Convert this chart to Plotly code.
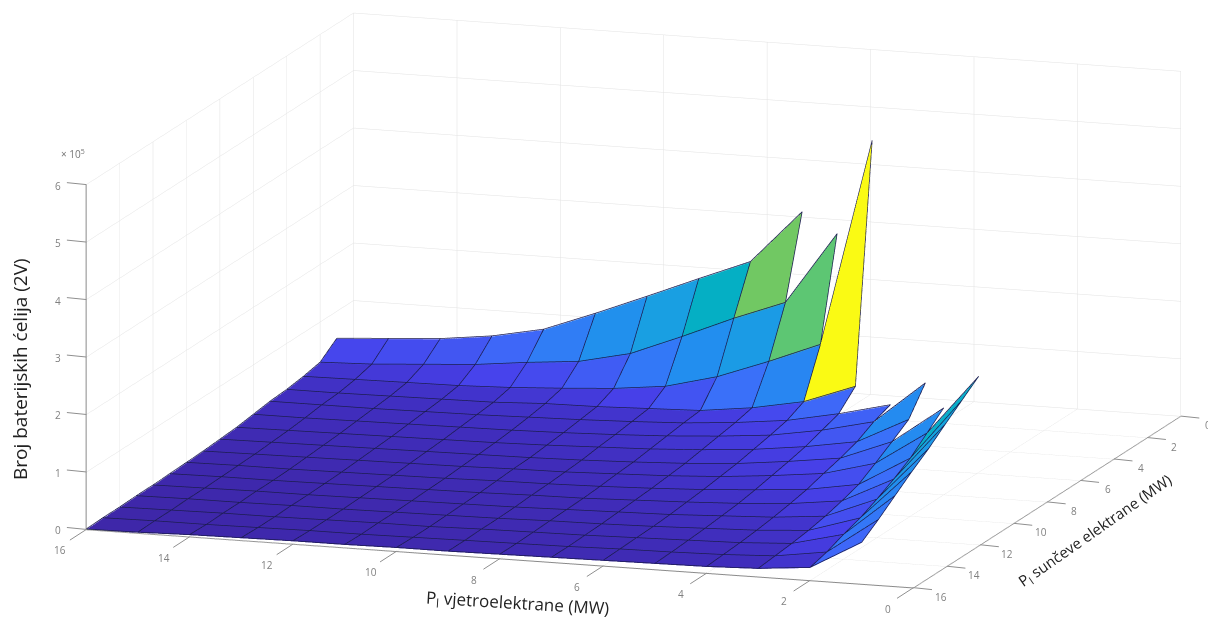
import plotly.graph_objects as go

# Wind plant power (MW), solar plant power (MW)
wind_mw = [16, 15, 14, 13, 12, 11, 10, 9, 8, 7, 6, 5, 4, 3, 2, 1]
solar_mw = list(range(1, 17))

# Axis ticks
wind_ticks = [0, 2, 4, 6, 8, 10, 12, 14, 16]
solar_ticks = [0, 2, 4, 6, 8, 10, 12, 14, 16]
cell_ticks = [0, 1, 2, 3, 4, 5, 6]

# Number of 2V cells (x 10^5); each row is one solar value, columns follow wind_mw
N = None
cells_s01 = [.52, .58, .64, .75, .93, 1.27, 1.63, 2.00, 2.36, 3.29, N, N, N, N, N, N]
cells_s02 = [.29, .32, .38, .44, .54, .62, .82, 1.18, 1.56, 1.90, 3.16, N, N, N, N, N]
cells_s03 = [.23, .24, .25, .26, .29, .34, .40, .50, .73, 1.06, 1.42, 5.03, N, N, N, N]
cells_s04 = [.19, .19, .20, .21, .22, .26, .27, .30, .33, .44, .61, .94, N, N, N, N]
cells_s05 = [.17, .17, .17, .18, .19, .21, .23, .26, .30, .37, .47, .65, .87, N, N, N]
cells_s06 = [.13, .13, .14, .15, .16, .17, .19, .22, .26, .32, .40, .55, .76, 1.50, N, N]
cells_s07 = [.09, .10, .11, .12, .13, .14, .16, .19, .22, .27, .34, .45, .60, 1.05, N, N]
cells_s08 = [.07, .08, .09, .10, .11, .12, .13, .15, .18, .22, .28, .38, .50, .85, 1.50, N]
cells_s09 = [.05, .06, .07, .08, .09, .10, .12, .13, .16, .19, .24, .32, .42, .66, 1.25, 2.30]
cells_s10 = [.04, .05, .05, .06, .07, .08, .10, .11, .13, .16, .20, .26, .33, .48, 1.00, 2.07]
cells_s11 = [.03, .04, .04, .05, .06, .07, .08, .10, .11, .14, .17, .21, .27, .38, .82, 1.84]
cells_s12 = [.02, .03, .04, .04, .05, .06, .07, .08, .10, .12, .14, .18, .22, .30, .66, 1.60]
cells_s13 = [.02, .03, .03, .04, .04, .05, .06, .07, .09, .10, .12, .15, .18, .24, .52, 1.39]
cells_s14 = [.01, .02, .03, .03, .04, .05, .05, .07, .08, .09, .11, .13, .15, .20, .42, 1.16]
cells_s15 = [.01, .02, .02, .03, .04, .04, .05, .06, .07, .08, .10, .11, .13, .17, .30, .93]
cells_s16 = [.00, .01, .03, .04, .05, .05, .06, .06, .07, .08, .09, .10, .11, .14, .22, .72]
cells = [cells_s01, cells_s02, cells_s03, cells_s04, cells_s05, cells_s06, cells_s07, cells_s08,
         cells_s09, cells_s10, cells_s11, cells_s12, cells_s13, cells_s14, cells_s15, cells_s16]

parula = [[0.0, "rgb(62,38,168)"], [0.05, "rgb(65,50,200)"], [0.1, "rgb(71,65,235)"], [0.2, "rgb(60,110,250)"],
          [0.3, "rgb(35,140,240)"], [0.4, "rgb(25,160,225)"], [0.47, "rgb(5,175,195)"], [0.55, "rgb(45,190,150)"],
          [0.6, "rgb(70,195,135)"], [0.65, "rgb(110,200,100)"], [0.75, "rgb(190,195,65)"], [0.85, "rgb(250,195,45)"],
          [1.0, "rgb(250,250,20)"]]

vx, vy, vz, index = [], [], [], {}
for r, row in enumerate(cells):
    for c, val in enumerate(row):
        if val is not None:
            index[(r, c)] = len(vx)
            vx.append(wind_mw[c]); vy.append(solar_mw[r]); vz.append(val)

ti, tj, tk, shade = [], [], [], []
ex, ey, ez = [], [], []
LIFT = 0.012   # keeps the mesh lines just above the faces so the depth test does not eat them
def edge(a, b):
    ex.extend([vx[a], vx[b], None]); ey.extend([vy[a], vy[b], None]); ez.extend([vz[a] + LIFT, vz[b] + LIFT, None])
for r in range(15):
    for c in range(15):
        keys = [(r, c), (r, c + 1), (r + 1, c + 1), (r + 1, c)]
        if all(k in index for k in keys):
            a, b, d, e = [index[k] for k in keys]
            col = cells[r][c + 1]   # flat face: lowest wind, lowest solar corner
            ti += [a, a]; tj += [b, d]; tk += [d, e]; shade += [col, col]
            edge(a, b); edge(b, d); edge(d, e); edge(e, a)

fig = go.Figure()
fig.add_trace(go.Mesh3d(x=vx, y=vy, z=vz, i=ti, j=tj, k=tk, intensity=shade, intensitymode="cell",
                        colorscale=parula, cmin=0, cmax=5.03, showscale=False, flatshading=True,
                        lighting=dict(ambient=1, diffuse=0, specular=0, roughness=1, fresnel=0),
                        hoverinfo="skip"))
fig.add_trace(go.Scatter3d(x=ex, y=ey, z=ez, mode="lines", line=dict(color="#1c1c50", width=1.5),
                           hoverinfo="skip", showlegend=False))

# Matlab-style ticks and labels hanging off the axis box, anchored in data coordinates
tick_font = dict(size=10, color="#808080", family="Open Sans")
def tick(x, y, z, text, tx, ty, lx, ly):
    mark = dict(x=x, y=y, z=z, text=" ", showarrow=True, ax=tx, ay=ty, arrowhead=0, arrowwidth=1,
                arrowcolor="#8f8f8f", borderpad=0, font=dict(size=1))
    name = dict(x=x, y=y, z=z, text=str(text), showarrow=False, xshift=lx, yshift=-ly,
                xanchor="center", yanchor="middle", font=tick_font)
    return [mark, name]

scene_notes = []
for v in wind_ticks:
    scene_notes += tick(v, 16, 0, v, -17, 11, -26, 21)
for v in solar_ticks:
    scene_notes += tick(0, v, 0, v, 19, 2, 27, 9)
for v in cell_ticks:
    scene_notes += tick(16, 16, v, v, -20, -2, -28, 1)

axis = dict(showbackground=False, gridcolor="#e2e2e2", gridwidth=1, showline=True, linecolor="#8a8a8a",
            linewidth=2, ticks="", showticklabels=False,
            zeroline=False, showspikes=False, title=dict(text=""))
label = dict(xref="paper", yref="paper", showarrow=False, xanchor="center", yanchor="middle")
fam = "Open Sans"
fig.update_layout(
    width=1208, height=618, margin=dict(l=0, r=0, t=0, b=0), paper_bgcolor="white", showlegend=False,
    scene=dict(
        domain=dict(x=[0.049, 1.0], y=[0.028, 1.0]),
        aspectmode="manual", aspectratio=dict(x=2.90, y=2.83, z=1.175),
        xaxis=dict(axis, range=[0, 16], tickvals=wind_ticks),
        yaxis=dict(axis, range=[0, 16], tickvals=solar_ticks),
        zaxis=dict(axis, range=[0, 6], tickvals=cell_ticks),
        camera=dict(projection=dict(type="orthographic"), up=dict(x=0, y=0, z=1),
                    center=dict(x=0, y=0, z=0),
                    eye=dict(x=-0.614, y=1.854, z=0.425)),
        annotations=scene_notes,
    ),
    annotations=[
        dict(label, text="P<sub>l</sub> vjetroelektrane (MW)", x=517/1208, y=1-603/618, textangle=3.5,
             font=dict(size=17, color="#222222", family=fam)),
        dict(label, text="P<sub>l</sub> sunčeve elektrane (MW)", x=1095/1208, y=1-531/618, textangle=-35,
             font=dict(size=15, color="#222222", family=fam)),
        dict(label, text="Broj baterijskih ćelija (2V)", x=20/1208, y=1-369/618, textangle=-90,
             font=dict(size=19, color="#222222", family=fam)),
        dict(label, text="× 10<sup>5</sup>", x=73/1208, y=1-154/618, font=dict(size=10, color="#777777", family=fam)),
    ],
)
fig.write_html("out.html", post_script="document.body.style.margin='0';", config=dict(displayModeBar=False))
